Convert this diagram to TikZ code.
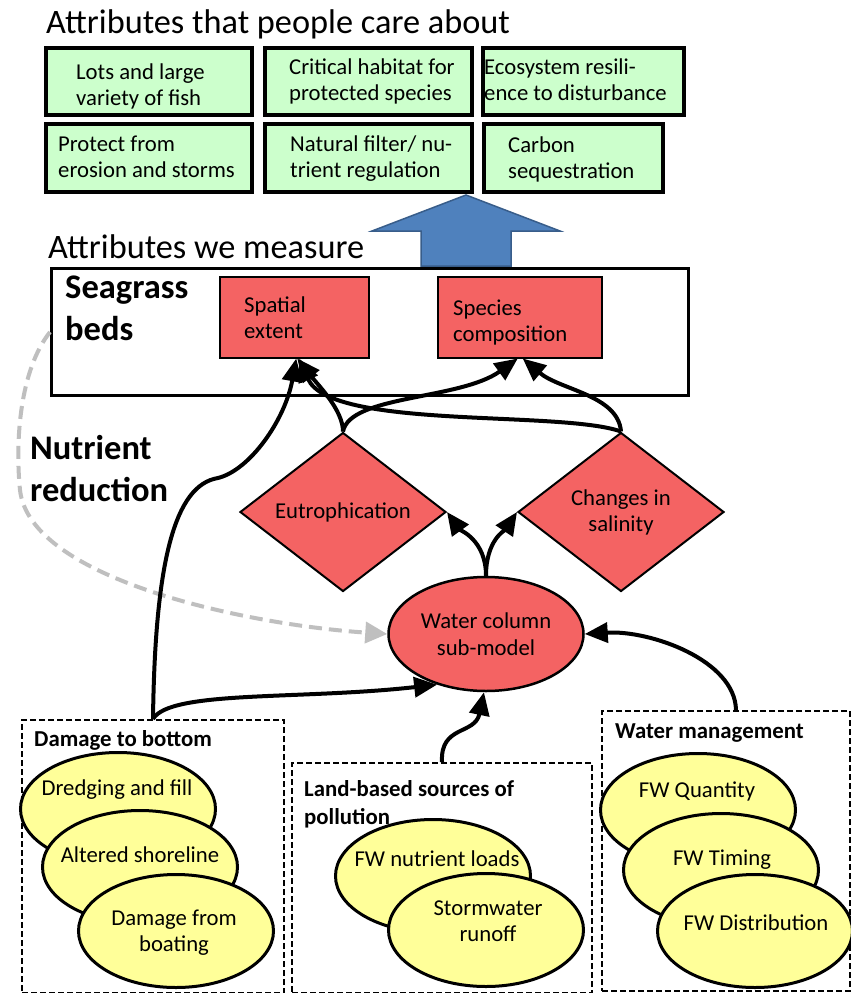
\documentclass[tikz,border=0pt]{standalone}
\usepackage{fontspec}
\setmainfont{Carlito}
\usetikzlibrary{arrows.meta,shapes.geometric}
\definecolor{gfill}{RGB}{204,255,204}
\definecolor{rfill}{RGB}{244,99,99}
\definecolor{yfill}{RGB}{255,255,153}
\definecolor{bfill}{RGB}{79,129,189}
\definecolor{bdraw}{RGB}{56,93,138}
\definecolor{lgray}{RGB}{191,191,191}
\begin{document}
\begin{tikzpicture}[x=1pt,y=-1pt,
  body/.style={font=\fontsize{22.7}{26}\selectfont, inner sep=0pt, align=left},
  bodyb/.style={font=\fontsize{22.8}{28}\selectfont\bfseries, inner sep=0pt, align=left},
  bigb/.style={font=\fontsize{34.5}{42}\selectfont\bfseries, inner sep=0pt, align=left},
  ttl/.style={font=\fontsize{34.3}{38}\selectfont, inner sep=0pt},
  gbox/.style={draw, line width=3.5pt, fill=gfill, anchor=north west, inner sep=0pt},
  rbox/.style={draw, line width=1.5pt, fill=rfill, anchor=north west, inner sep=0pt},
  rdiam/.style={diamond, draw, line width=2pt, fill=rfill, inner sep=0pt, minimum width=206pt, minimum height=159pt, font=\fontsize{22.7}{26}\selectfont, align=center},
  dbox/.style={draw, line width=2pt, dash pattern=on 6pt off 3pt, anchor=north west, inner sep=0pt},
  yell/.style={ellipse, draw, line width=3pt, fill=yfill, minimum width=195pt, minimum height=113pt, inner sep=0pt},
  conn/.style={line width=4pt, -{Triangle[length=23pt,width=20pt]}},
  gconn/.style={line width=4pt, lgray, dash pattern=on 13pt off 7pt, -{Triangle[length=22pt,width=21pt]}}
]
\useasboundingbox[fill=white] (0,0) rectangle (851,993);

% titles
\node[ttl, anchor=base west] (t1) at (46,33) {Attributes that people care about};
\node[ttl, anchor=base west] (t2) at (48,258) {Attributes we measure};

% green boxes
\node[gbox, minimum width=206pt, minimum height=67pt] (g1) at (44,46) {};
\node[body, anchor=west] (g1t) at (76,86.5) {Lots and large\\variety of fish};
\node[gbox, minimum width=207pt, minimum height=67pt] (g2) at (263,46) {};
\node[body, anchor=west] (g2t) at (289,81.5) {Critical habitat for\\protected species};
\node[gbox, minimum width=201pt, minimum height=67pt] (g3) at (481,46) {};
\node[body, anchor=west] (g3t) at (484,79.5) {Ecosystem resili-\\ence to disturbance};
\node[gbox, minimum width=206pt, minimum height=68pt] (g4) at (44,122) {};
\node[body, anchor=west] (g4t) at (58,157) {Protect from\\erosion and storms};
\node[gbox, minimum width=207pt, minimum height=68pt] (g5) at (263,122) {};
\node[body, anchor=west] (g5t) at (290,159) {Natural filter/ nu-\\trient regulation};
\node[gbox, minimum width=179pt, minimum height=68pt] (g6) at (482,122) {};
\node[body, anchor=west] (g6t) at (508,159) {Carbon\\sequestration};

% blue arrow
\draw[bdraw, fill=bfill, line width=1.5pt] (466,195) -- (560,231) -- (511,231) -- (511,266) -- (421,266) -- (421,231) -- (372,231) -- cycle;

% seagrass box
\node[draw, line width=3pt, anchor=north west, inner sep=0pt, minimum width=637pt, minimum height=127pt] (sg) at (50,267) {};
\node[bigb, anchor=west] (sgt) at (65,308) {Seagrass\\beds};
\node[rbox, minimum width=149pt, minimum height=81pt] (sp) at (219,276) {};
\node[body, anchor=west] (spt) at (244,317.5) {Spatial\\extent};
\node[rbox, minimum width=164pt, minimum height=81pt] (spc) at (437,276) {};
\node[body, anchor=west] (spct) at (453,323) {Species\\composition};

% nutrient reduction
\node[bigb, anchor=west] (nr) at (30,468.5) {Nutrient\\reduction};

% diamonds
\node[rdiam] (eu) at (343,512) {Eutrophication};
\node[rdiam] (sal) at (621,512) {Changes in\\salinity};

% water column
\node[ellipse, draw, line width=2.5pt, fill=rfill, minimum width=195pt, minimum height=114pt, inner sep=0pt, font=\fontsize{22.7}{27}\selectfont, align=center] (wc) at (486,634) {Water column\\sub-model};

% dashed groups
\node[dbox, minimum width=262pt, minimum height=273pt] (dmg) at (21,719) {};
\node[bodyb, anchor=base west] (dmgt) at (34,746) {Damage to bottom};
\node[yell] (e1) at (118,809) {};
\node[body, anchor=base] (e1t) at (117,795) {Dredging and fill};
\node[yell] (e2) at (140,867) {};
\node[body, anchor=base] (e2t) at (140,862) {Altered shoreline};
\node[yell] (e3) at (176,931) {};
\node[body, align=center] (e3t) at (174,933) {Damage from\\boating};

\node[dbox, minimum width=300pt, minimum height=230pt] (land) at (291,762) {};
\node[bodyb, anchor=west] (landt) at (304,804) {Land-based sources of\\pollution};
\node[yell] (e4) at (433,876) {};
\node[body, anchor=base] (e4t) at (437,866) {FW nutrient loads};
\node[yell] (e5) at (486,930) {};
\node[body, align=center] (e5t) at (488,921) {Stormwater\\runoff};

\node[dbox, minimum width=248pt, minimum height=280pt] (wm) at (601,710) {};
\node[bodyb, anchor=base west] (wmt) at (615,738) {Water management};
\node[yell] (e6) at (698,810) {};
\node[body, anchor=base] (e6t) at (697,797) {FW Quantity};
\node[yell] (e7) at (721,870) {};
\node[body, anchor=base] (e7t) at (722,865) {FW Timing};
\node[yell] (e8) at (755,931) {};
\node[body, anchor=base] (e8t) at (756,930) {FW Distribution};

% connectors
\draw[gconn] (sg.west) .. controls (20,370) and (15,440) .. (20,490) .. controls (30,580) and (250,625) .. (wc.west);
\draw[conn] (dmg.north) .. controls (155,560) and (175,485) .. (218,478) .. controls (250,470) and (285,420) .. ([xshift=2pt]sp.south);
\draw[conn] (dmg.north) .. controls (170,690) and (300,700) .. (wc.226);
\draw[conn] (land.north) .. controls (440,725) and (475,735) .. (wc.268);
\draw[conn] ([xshift=10pt]wm.north) .. controls (735,660) and (650,630) .. (wc.east);
\draw[conn] (wc.north) .. controls (486,540) and (460,530) .. (eu.east);
\draw[conn] (wc.north) .. controls (486,540) and (505,530) .. (sal.west);
\draw[conn] (eu.north) .. controls (343,410) and (318,385) .. ([xshift=3pt]sp.south);
\draw[conn] (eu.north) .. controls (350,395) and (460,400) .. ([xshift=-2pt]spc.south);
\draw[conn] (sal.north) .. controls (618,395) and (560,390) .. ([xshift=3pt]spc.south);
\draw[conn] (sal.north) .. controls (560,410) and (330,430) .. ([xshift=5pt]sp.south);
\end{tikzpicture}
\end{document}
